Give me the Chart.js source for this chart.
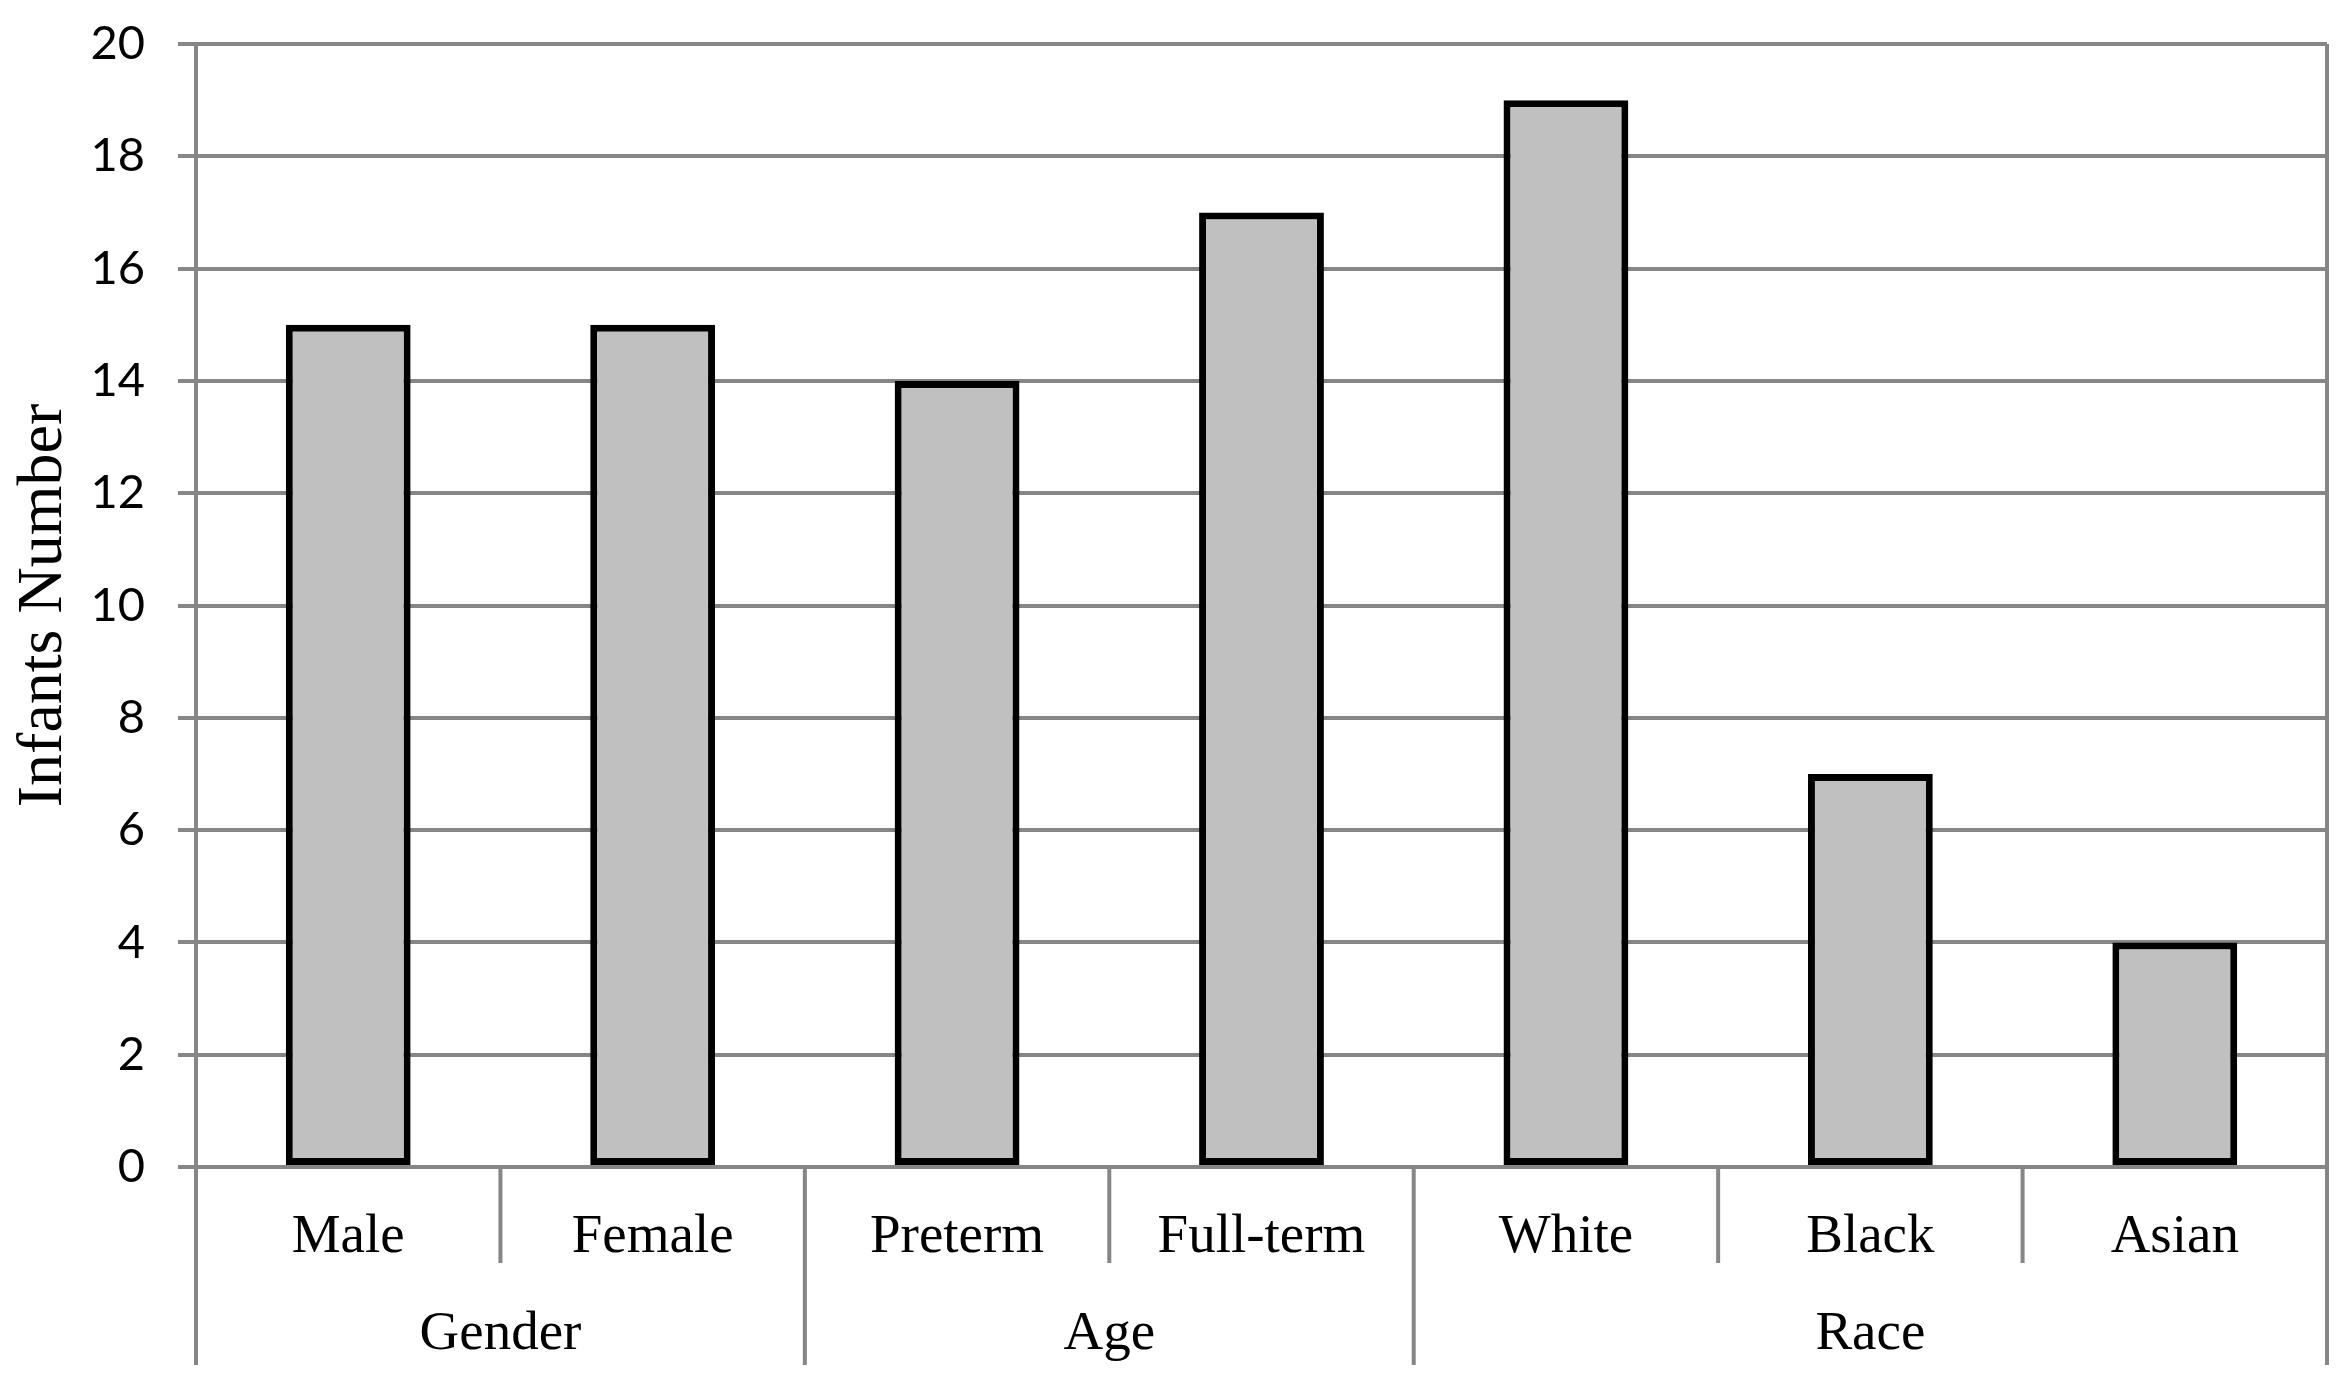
<!DOCTYPE html>
<html>
<head>
<meta charset="utf-8">
<script src="https://cdn.jsdelivr.net/npm/chart.js@4"></script>
<style>
  body { margin: 0; background: #fff; }
  canvas { display: block; }
</style>
</head>
<body>
<canvas id="infants-chart" width="2350" height="1386"></canvas>
<script>
// data
const categories = ['Male', 'Female', 'Preterm', 'Full-term', 'White', 'Black', 'Asian'];
const infants = [15, 15, 14, 17, 19, 7, 4];
const groups = ['Gender', 'Age', 'Race'];
const groupSizes = [2, 2, 3];
const yMax = 20;
const yStep = 2;

const axisGray = '#868686';
const serif = 'Liberation Serif';

// second row of the category axis (group names + separators)
const groupRow = {
  id: 'groupRow',
  afterDraw(chart) {
    const x = chart.scales.x;
    const area = chart.chartArea;
    const ctx = chart.ctx;
    const step = x.getPixelForValue(1) - x.getPixelForValue(0);
    const edge = i => x.getPixelForValue(i) - step / 2;

    // which boundaries close a group
    let bounds = [0];
    groupSizes.forEach(n => bounds.push(bounds[bounds.length - 1] + n));

    ctx.save();
    ctx.strokeStyle = axisGray;
    ctx.lineWidth = 4;
    ctx.beginPath();
    // right frame line
    ctx.moveTo(edge(categories.length), area.top);
    ctx.lineTo(edge(categories.length), area.bottom);
    for (let i = 0; i <= categories.length; i++) {
      const px = edge(i);
      const long = bounds.includes(i);
      ctx.moveTo(px, area.bottom);
      ctx.lineTo(px, long ? area.bottom + 198 : area.bottom + 96);
    }
    ctx.stroke();

    // group labels
    ctx.fillStyle = '#000';
    ctx.font = '55px "' + serif + '"';
    ctx.textAlign = 'center';
    ctx.textBaseline = 'middle';
    groups.forEach((g, k) => {
      const mid = (edge(bounds[k]) + edge(bounds[k + 1])) / 2;
      ctx.fillText(g, mid, area.bottom + 168);
    });
    ctx.restore();
  }
};

new Chart(document.getElementById('infants-chart'), {
  type: 'bar',
  data: {
    labels: categories,
    datasets: [{
      data: infants,
      backgroundColor: '#c0c0c0',
      borderColor: '#000',
      borderWidth: 7,
      borderSkipped: false,
      categoryPercentage: 1,
      barPercentage: 0.41
    }]
  },
  options: {
    responsive: false,
    animation: false,
    devicePixelRatio: 1,
    layout: { padding: { left: 0, top: 44, right: 23, bottom: 0 } },
    plugins: {
      legend: { display: false },
      tooltip: { enabled: false }
    },
    scales: {
      x: {
        grid: { display: false },
        border: { display: false },
        ticks: {
          color: '#000',
          padding: 30,
          maxRotation: 0,
          font: { family: serif, size: 55 }
        },
        afterFit(scale) { scale.height = 219; }
      },
      y: {
        min: 0,
        max: yMax,
        grid: { color: axisGray, lineWidth: 4, tickLength: 18 },
        border: { color: axisGray, width: 4 },
        ticks: {
          stepSize: yStep,
          color: '#000',
          padding: 33,
          font: { family: 'Lato', size: 47 }
        },
        title: {
          display: true,
          text: 'Infants Number',
          color: '#000',
          padding: { top: 6, bottom: 0 },
          font: { family: serif, size: 64 }
        },
        afterFit(scale) {
          scale.width = 196;
          scale.paddingTop = 0;
          scale.paddingBottom = 0;
        }
      }
    }
  },
  plugins: [groupRow]
});
</script>
</body>
</html>
